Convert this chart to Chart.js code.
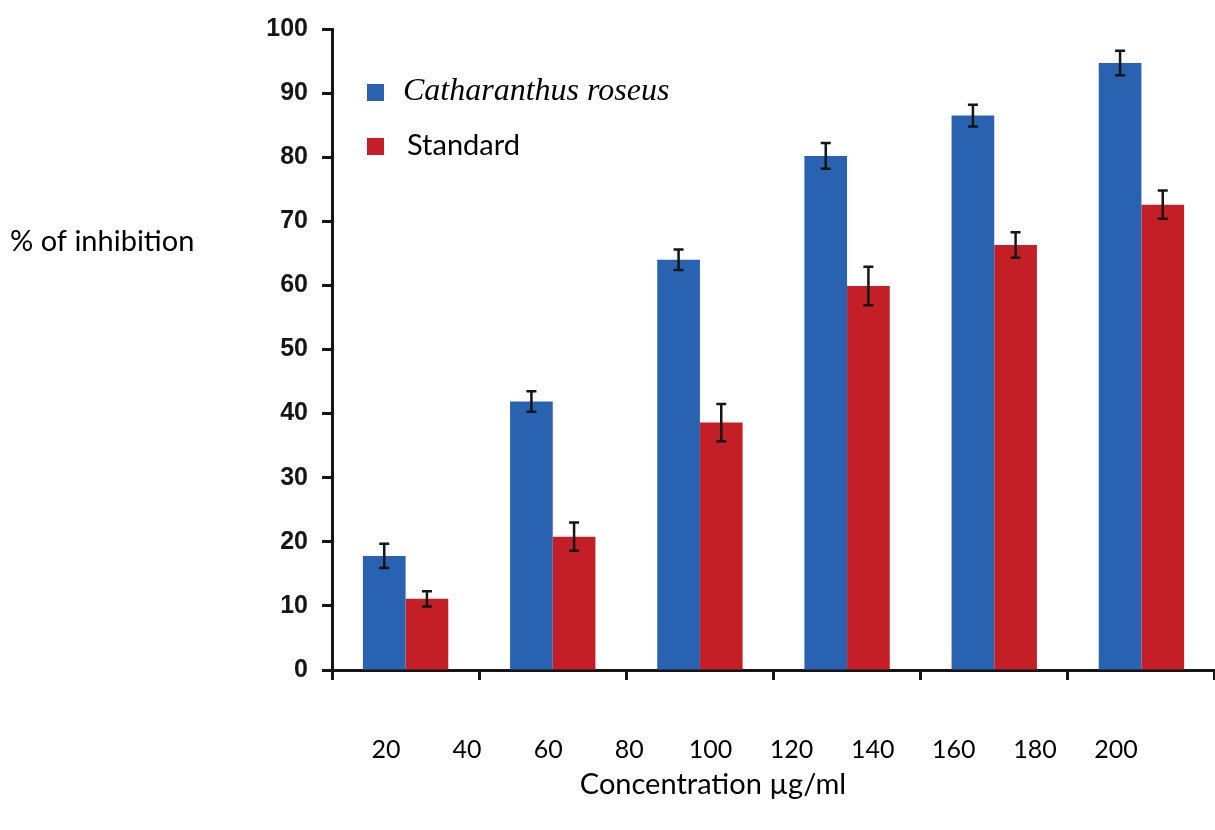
<!DOCTYPE html>
<html lang="en">
<head>
    <meta charset="UTF-8">
    <title>% of inhibition vs concentration</title>
    <script src="https://cdn.jsdelivr.net/npm/chart.js"></script>
    <style>
        body { margin: 0; padding: 0; background-color: #ffffff; }
        .chart-container { position: relative; width: 1215px; height: 830px; }
    </style>
</head>
<body>
    <div class="chart-container">
        <canvas id="inhibitionChart"></canvas>
    </div>

    <script>
        // group labels (hidden on the axis) and bottom tick labels
        const groupLabels = ['20', '60', '100', '140', '180', '200'];
        const concentrationTicks = [20, 40, 60, 80, 100, 120, 140, 160, 180, 200];

        // % of inhibition
        const roseusValues = [17.8, 41.9, 64.0, 80.2, 86.5, 94.7];
        const roseusErrors = [1.9, 1.6, 1.6, 2.0, 1.7, 1.9];
        const standardValues = [11.1, 20.8, 38.6, 59.9, 66.3, 72.6];
        const standardErrors = [1.2, 2.2, 2.9, 3.0, 2.0, 2.2];

        const sansFont = 'Lato, "Open Sans", sans-serif';

        // error bars on top of each bar
        const errorBarsPlugin = {
            id: 'errorBars',
            afterDatasetsDraw(chart) {
                const ctx = chart.ctx;
                const yScale = chart.scales.y;
                ctx.save();
                ctx.strokeStyle = '#151515';
                ctx.lineWidth = 2.5;
                chart.data.datasets.forEach((ds, i) => {
                    const meta = chart.getDatasetMeta(i);
                    meta.data.forEach((bar, j) => {
                        const v = ds.data[j];
                        const e = ds.errors[j];
                        const top = yScale.getPixelForValue(v + e);
                        const bottom = yScale.getPixelForValue(v - e);
                        ctx.beginPath();
                        ctx.moveTo(bar.x, top);
                        ctx.lineTo(bar.x, bottom);
                        ctx.moveTo(bar.x - 5, top);
                        ctx.lineTo(bar.x + 5, top);
                        ctx.moveTo(bar.x - 5, bottom);
                        ctx.lineTo(bar.x + 5, bottom);
                        ctx.stroke();
                    });
                });
                ctx.restore();
            }
        };

        // legend with mixed fonts + the two axis titles (horizontal)
        const labelsPlugin = {
            id: 'labels',
            afterDraw(chart) {
                const ctx = chart.ctx;
                ctx.save();
                chart.data.datasets.forEach((ds, i) => {
                    const y = 92 + i * 54;
                    ctx.fillStyle = ds.backgroundColor;
                    ctx.fillRect(367, y - 8, 17, 17);
                    ctx.fillStyle = '#000';
                    ctx.font = ds.legendFont;
                    ctx.textBaseline = 'middle';
                    ctx.textAlign = 'left';
                    ctx.fillText(ds.label, ds.legendX, y);
                });
                ctx.font = '29px ' + sansFont;
                ctx.fillStyle = '#000';
                ctx.textBaseline = 'middle';
                ctx.textAlign = 'left';
                ctx.fillText('% of inhibition', 10, 242);
                ctx.textAlign = 'center';
                ctx.fillText('Concentration µg/ml', 713, 785);
                ctx.restore();
            }
        };

        const ctx = document.getElementById('inhibitionChart').getContext('2d');
        const chart = new Chart(ctx, {
            type: 'bar',
            data: {
                labels: groupLabels,
                datasets: [{
                    label: 'Catharanthus roseus',
                    data: roseusValues,
                    errors: roseusErrors,
                    backgroundColor: '#2862b0',
                    legendFont: 'italic 32px "Liberation Serif", serif',
                    legendX: 403
                }, {
                    label: 'Standard',
                    data: standardValues,
                    errors: standardErrors,
                    backgroundColor: '#c41e26',
                    legendFont: '29px ' + sansFont,
                    legendX: 407
                }]
            },
            options: {
                responsive: true,
                maintainAspectRatio: false,
                animation: false,
                layout: { padding: { left: 262, top: 15, right: 0, bottom: 0 } },
                datasets: {
                    bar: { categoryPercentage: 0.58, barPercentage: 1.0 }
                },
                plugins: {
                    legend: { display: false },
                    tooltip: { enabled: false }
                },
                scales: {
                    x: {
                        type: 'category',
                        offset: true,
                        ticks: { display: false },
                        grid: {
                            offset: true,
                            drawOnChartArea: false,
                            drawTicks: true,
                            tickLength: 10,
                            tickWidth: 3,
                            tickColor: '#151515'
                        },
                        border: { color: '#151515', width: 3 },
                        afterFit: (scale) => { scale.height = 10; }
                    },
                    x2: {
                        type: 'linear',
                        position: 'bottom',
                        offset: false,
                        bounds: 'data',
                        min: 6.7,
                        max: 224.4,
                        afterBuildTicks: (scale) => {
                            scale.ticks = concentrationTicks.map(v => ({ value: v }));
                        },
                        ticks: {
                            padding: 55,
                            color: '#000',
                            font: { family: sansFont, size: 25 },
                            maxRotation: 0,
                            autoSkip: false,
                            callback: (v) => String(v)
                        },
                        grid: { display: false, drawTicks: false, offset: false },
                        border: { display: false },
                        afterFit: (scale) => { scale.height = 150; }
                    },
                    y: {
                        min: 0,
                        max: 100,
                        ticks: {
                            stepSize: 10,
                            padding: 14,
                            color: '#151515',
                            font: { family: '"Liberation Sans", Arial, sans-serif', size: 25, weight: 'bold' }
                        },
                        grid: {
                            drawOnChartArea: false,
                            drawTicks: true,
                            tickLength: 10,
                            tickWidth: 3,
                            tickColor: '#151515'
                        },
                        border: { color: '#151515', width: 3 },
                        afterFit: (scale) => { scale.width = 70; }
                    }
                }
            },
            plugins: [errorBarsPlugin, labelsPlugin]
        });
    </script>
</body>
</html>
